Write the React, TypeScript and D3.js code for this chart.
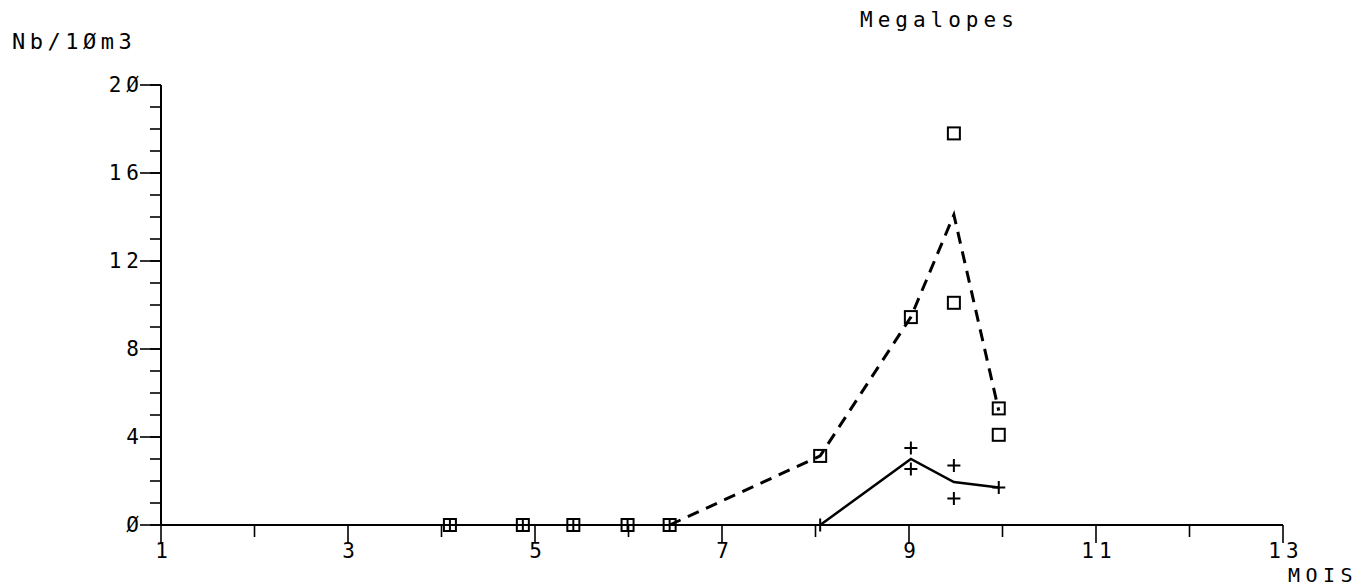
import React from "react";
import * as d3 from "d3";

// Individual samples (squares) and their mean (dashed line)
const squareMonths = [4.09, 4.87, 5.41, 5.99, 6.44, 8.05, 9.02, 9.48, 9.48, 9.96, 9.96];
const squareValues = [0, 0, 0, 0, 0, 3.14, 9.45, 17.8, 10.1, 5.3, 4.1];
const dashedMonths = [6.44, 8.05, 9.02, 9.48, 9.96];
const dashedValues = [0, 3.14, 9.45, 14.1, 5.2];

// Individual samples (crosses) and their mean (solid line)
const crossMonths = [4.09, 4.87, 5.41, 5.99, 6.44, 8.05, 9.02, 9.02, 9.48, 9.48, 9.96];
const crossValues = [0, 0, 0, 0, 0, 0, 3.5, 2.55, 2.7, 1.2, 1.7];
const solidMonths = [8.05, 9.02, 9.48, 9.96];
const solidValues = [0, 3.0, 1.95, 1.7];

const xMajorTicks = [1, 3, 5, 7, 9, 11, 13];
const xMinorTicks = [2, 4, 6, 8, 10, 12];
const yMajorTicks = [0, 4, 8, 12, 16, 20];
const yMinorTicks = d3.range(0, 21);

const fmt = (v: number) => String(v).replace(/0/g, "Ø");

export default function App() {
  const x = d3.scaleLinear().domain([1, 13]).range([161, 1283]);
  const y = d3.scaleLinear().domain([0, 20]).range([525, 85]);
  const font = "'DejaVu Sans Mono', monospace";

  const dashed = d3
    .line<number>()
    .x((_, i) => x(dashedMonths[i]))
    .y((d) => y(d))(dashedValues);
  const solid = d3
    .line<number>()
    .x((_, i) => x(solidMonths[i]))
    .y((d) => y(d))(solidValues);

  const sq = 12;
  const cr = 6.5;

  return (
    <svg
      width={1368}
      height={588}
      style={{ position: "absolute", left: 0, top: 0, background: "#fff" }}
    >
      <rect width={1368} height={588} fill="#fff" />
      {/* axes */}
      <line x1={x(1)} x2={x(13)} y1={y(0)} y2={y(0)} stroke="#000" strokeWidth={2} />
      <line x1={x(1)} x2={x(1)} y1={y(20)} y2={y(0)} stroke="#000" strokeWidth={2} />
      {xMajorTicks.map((t) => (
        <g key={"xM" + t}>
          <line x1={x(t)} x2={x(t)} y1={y(0)} y2={y(0) + 18} stroke="#000" strokeWidth={1.6} />
          <text
            x={x(t) + 3}
            y={558}
            textAnchor="middle"
            fontFamily={font}
            fontSize={21}
            letterSpacing={5}
          >
            {t}
          </text>
        </g>
      ))}
      {xMinorTicks.map((t) => (
        <line key={"xm" + t} x1={x(t)} x2={x(t)} y1={y(0) + 1} y2={y(0) + 12} stroke="#000" strokeWidth={1.6} />
      ))}
      {yMinorTicks.map((t) => (
        <line key={"ym" + t} x1={x(1) - 11} x2={x(1)} y1={y(t)} y2={y(t)} stroke="#000" strokeWidth={1.6} />
      ))}
      {yMajorTicks.map((t) => (
        <g key={"yM" + t}>
          <line x1={x(1) - 21} x2={x(1)} y1={y(t)} y2={y(t)} stroke="#000" strokeWidth={1.6} />
          <text
            x={x(1) - 17}
            y={y(t) + 7}
            textAnchor="end"
            fontFamily={font}
            fontSize={21}
            letterSpacing={5}
          >
            {fmt(t)}
          </text>
        </g>
      ))}
      <text x={1288} y={582} fontFamily={font} fontSize={20} letterSpacing={5.5}>
        MOIS
      </text>
      <text x={12} y={49} fontFamily={font} fontSize={22} letterSpacing={4.5}>
        Nb/1Øm3
      </text>
      <text x={860} y={27} fontFamily={font} fontSize={21} letterSpacing={5}>
        Megalopes
      </text>

      {/* lines */}
      <path d={dashed ?? ""} fill="none" stroke="#000" strokeWidth={3} strokeDasharray="12 8" />
      <path d={solid ?? ""} fill="none" stroke="#000" strokeWidth={2.5} />

      {/* markers */}
      {squareValues.map((v, i) => (
        <rect
          key={"s" + i}
          x={x(squareMonths[i]) - sq / 2}
          y={y(v) - sq / 2}
          width={sq}
          height={sq}
          fill="none"
          stroke="#000"
          strokeWidth={2}
        />
      ))}
      {crossValues.map((v, i) => (
        <path
          key={"c" + i}
          d={`M${x(crossMonths[i]) - cr},${y(v)}H${x(crossMonths[i]) + cr}M${x(crossMonths[i])},${y(v) - cr}V${y(v) + cr}`}
          stroke="#000"
          strokeWidth={2}
          fill="none"
        />
      ))}
    </svg>
  );
}
